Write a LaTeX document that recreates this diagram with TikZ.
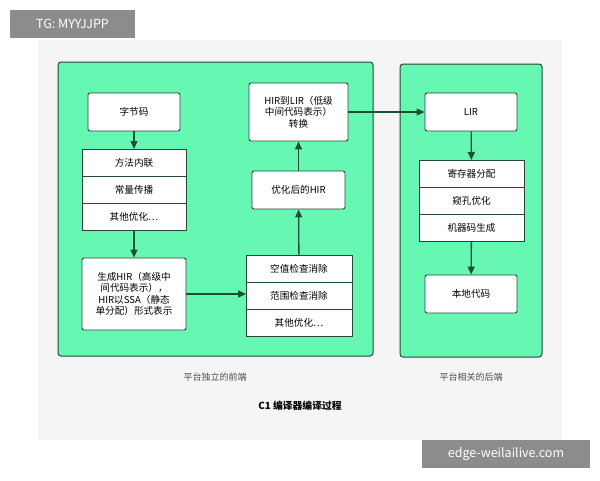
\documentclass[tikz,border=0pt]{standalone}
\usepackage{fontspec}
\setmainfont{Noto Sans CJK SC}
\usetikzlibrary{arrows.meta}
\definecolor{panelgreen}{HTML}{66F7B2}
\definecolor{edgedark}{HTML}{26463A}
\definecolor{arrowgreen}{HTML}{1F4D36}
\tikzset{stage box/.style={
        draw=edgedark, fill=white, rounded corners=2pt, line width=0.9pt,
        align=center, font=\fontsize{9.6}{11.5}\selectfont, inner sep=1pt,
    },
    stack row/.style={
        draw=edgedark, fill=white, line width=0.9pt, minimum width=104pt,
        minimum height=27pt, outer sep=0pt, font=\fontsize{9.6}{11}\selectfont,
    },
    flow/.style={
        -{Triangle[length=8pt,width=7pt]}, draw=arrowgreen, line width=1.3pt,
    },
    tag box/.style={
        fill=black!45, text=white, font=\fontsize{12.5}{14}\selectfont, inner sep=0pt,
    },
}

\begin{document}
\begin{tikzpicture}[x=1pt,y=-1pt]
    \useasboundingbox (0,0) rectangle (600,480);
    \fill[black!4] (38,40) rectangle (562,440);
    %% the two stages
    \draw[draw=edgedark, fill=panelgreen, rounded corners=3pt, line width=1pt] (58,62) rectangle (373,356);
    \draw[draw=edgedark, fill=panelgreen, rounded corners=3pt, line width=1pt] (400,64) rectangle (542,357);

    %% front end
    \node [stage box, minimum width=92pt, minimum height=38pt] (bytecode) at (134,112) {字节码};
    \node [stack row] (inline) at (134,162.5) {方法内联};
    \node [stack row, anchor=north] (constprop) at (inline.south) {常量传播};
    \node [stack row, anchor=north] (otheropt) at (constprop.south) {其他优化…};
    \node [stage box, minimum width=104pt, minimum height=72pt] (genhir) at (134,294)
        {生成HIR（高级中\\间代码表示），\\HIR以SSA（静态\\单分配）形式表示};
    \node [stack row, minimum width=106pt] (nullcheck) at (299,268.5) {空值检查消除};
    \node [stack row, minimum width=106pt, anchor=north] (rangecheck) at (nullcheck.south) {范围检查消除};
    \node [stack row, minimum width=106pt, anchor=north] (otheropt2) at (rangecheck.south) {其他优化…};
    \node [stage box, minimum width=93pt, minimum height=38pt] (opthir) at (298.5,190) {优化后的HIR};
    \node [stage box, minimum width=99pt, minimum height=58pt] (hirlir) at (298.5,112)
        {HIR到LIR（低级\\中间代码表示）\\转换};

    %% back end
    \node [stage box, minimum width=92pt, minimum height=38pt] (lir) at (471,112) {LIR};
    \node [stack row, minimum width=105pt] (regalloc) at (471.5,173.5) {寄存器分配};
    \node [stack row, minimum width=105pt, anchor=north] (peephole) at (regalloc.south) {窥孔优化};
    \node [stack row, minimum width=105pt, anchor=north] (codegen) at (peephole.south) {机器码生成};
    \node [stage box, minimum width=92pt, minimum height=38pt] (native) at (471,294) {本地代码};

    \draw [flow] (bytecode) -- (inline);
    \draw [flow] (otheropt) -- (genhir);
    \draw [flow] (genhir) -- (genhir -| nullcheck.west);
    \draw [flow] (nullcheck) -- (opthir);
    \draw [flow] (opthir) -- (hirlir);
    \draw [flow] (hirlir) -- (lir);
    \draw [flow] (lir) -- (regalloc);
    \draw [flow] (codegen) -- (native);

    %% captions
    \node [font=\fontsize{9}{10}\selectfont, text=black!70] (frontcap) at (215,377) {平台独立的前端};
    \node [font=\fontsize{9}{10}\selectfont, text=black!70] (backcap) at (471,377) {平台相关的后端};
    \node [font=\fontsize{9.8}{11}\selectfont\bfseries] (title) at (300,406) {C1 编译器编译过程};

    %% marks
    \node [tag box, minimum width=125pt, minimum height=28pt] (tgmark) at (72.5,24) {TG: MYYJJPP};
    \node [tag box, minimum width=168pt, minimum height=28pt] (sitemark) at (506,454) {edge-weilailive.com};
\end{tikzpicture}
\end{document}
